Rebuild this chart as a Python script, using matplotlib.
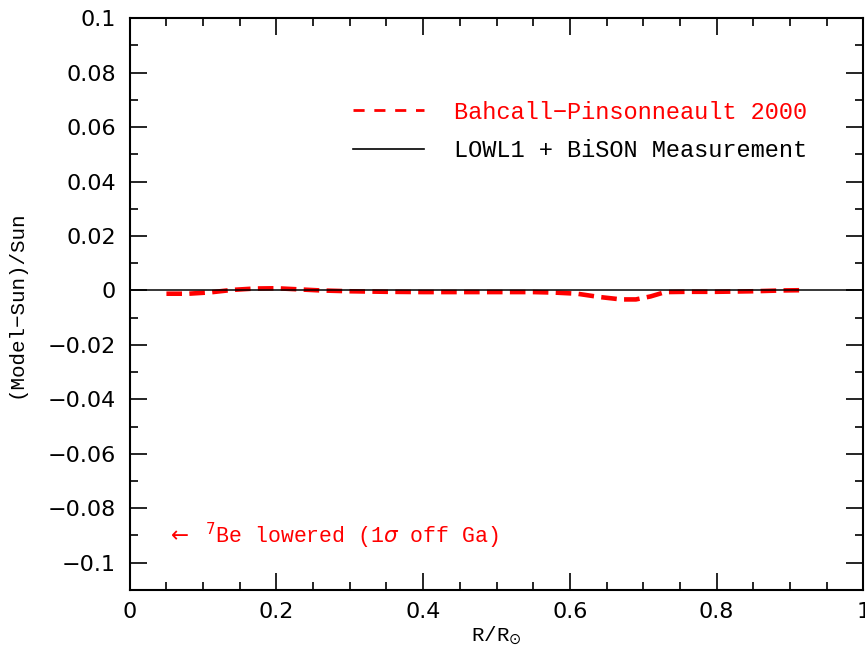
import matplotlib.pyplot as plt
from matplotlib.lines import Line2D
from matplotlib.ticker import MultipleLocator

# Data
radius = [0.05, 0.08, 0.11, 0.14, 0.17, 0.20, 0.23, 0.26, 0.30, 0.35, 0.40, 0.45,
          0.50, 0.55, 0.58, 0.61, 0.64, 0.67, 0.69, 0.71, 0.73, 0.76, 0.80, 0.85,
          0.89, 0.92]
bp2000 = [-0.0012, -0.0012, -0.0007, 0.0002, 0.0007, 0.0008, 0.0004, 0.0000,
          -0.0003, -0.0005, -0.0006, -0.0006, -0.0006, -0.0006, -0.0008, -0.0012,
          -0.0024, -0.0033, -0.0033, -0.0022, -0.0006, -0.0005, -0.0005, -0.0003,
          0.0000, 0.0001]
meas_x = [0, 1]
meas_y = [0, 0]

serif = 'Liberation Mono'

fig = plt.figure(figsize=(8.65, 6.49), dpi=100)
ax = fig.add_axes([0.150, 0.091, 0.848, 0.881])

ax.plot(radius, bp2000, color='red', ls=(0, (3.4, 1.6)), lw=3.3)
ax.plot(meas_x, meas_y, color='black', lw=1.1)

ax.set_xlim(0, 1)
ax.set_ylim(-0.11, 0.1)
ax.xaxis.set_minor_locator(MultipleLocator(0.05))
ax.yaxis.set_minor_locator(MultipleLocator(0.01))
ax.set_xticks([0, 0.2, 0.4, 0.6, 0.8, 1.0])
ax.set_xticklabels(['0', '0.2', '0.4', '0.6', '0.8', '1'])
ax.set_yticks([0.1, 0.08, 0.06, 0.04, 0.02, 0, -0.02, -0.04, -0.06, -0.08, -0.1])
ax.set_yticklabels(['0.1', '0.08', '0.06', '0.04', '0.02', '0', '\u22120.02',
                    '\u22120.04', '\u22120.06', '\u22120.08', '\u22120.1'])
ax.tick_params(which='both', direction='in', top=True, right=True, width=1.2,
               labelsize=16)
ax.tick_params(axis='y', pad=10)
ax.tick_params(axis='x', pad=9)
ax.tick_params(which='major', length=12)
ax.tick_params(which='minor', length=6)
for s in ax.spines.values():
    s.set_linewidth(1.5)

ax.set_xlabel(r'R/R$_{\odot}$', fontsize=15, fontname=serif, labelpad=2)
ax.set_ylabel('(Model\u2212Sun)/Sun', fontsize=15, fontname=serif, labelpad=16)

handles = [Line2D([], [], color='red', ls=(0, (4, 3.5)), lw=2),
           Line2D([], [], color='black', lw=1.2)]
labels = ['Bahcall\u2212Pinsonneault 2000', 'LOWL1 + BiSON Measurement']
leg = ax.legend(handles, labels, loc='upper left', bbox_to_anchor=(0.276, 0.893),
                frameon=False, handlelength=3.0, handletextpad=1.25,
                labelspacing=0.65, prop={'family': serif, 'size': 17})
leg.get_texts()[0].set_color('red')

ax.text(0.05, -0.09, r'$\leftarrow$ $^{7}$Be lowered (1$\sigma$ off Ga)',
        color='red', fontsize=15.5, fontname=serif, va='center')

plt.savefig('out.png', dpi=100)
